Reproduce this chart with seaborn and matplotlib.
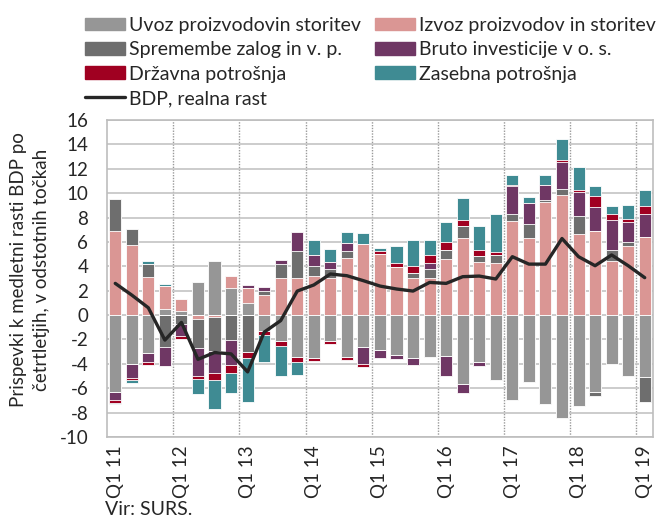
import numpy as np
import matplotlib
matplotlib.use("Agg")
import matplotlib.pyplot as plt
import seaborn as sns
from matplotlib.patches import Patch
from matplotlib.lines import Line2D

# quarters Q1 2011 .. Q1 2019
quarters = [f"Q{q} {y}" for y in range(11, 20) for q in range(1, 5)][:33]

uvoz = [-6.3, -4.05, -3.07, 0.47, 0.36, 2.74, 4.44, 2.25, 1.01, -1.3, -2.14,
        -3.45, -3.48, -2.14, -3.45, -2.6, -2.88, -3.29, -3.51, -3.42, -3.34,
        -5.64, -3.84, -5.34, -6.99, -5.48, -7.29, -8.4, -7.48, -6.33, -4.0,
        -4.99, -5.07]
izvoz = [6.93, 5.75, 3.15, 1.92, 0.99, -0.33, -0.14, 0.99, 1.2, 1.64, 3.07,
         3.01, 3.18, 3.01, 4.66, 5.84, 5.01, 3.97, 3.07, 3.07, 4.58,
         6.36, 4.36, 4.27, 7.75, 6.36, 9.26, 9.86, 6.66, 6.93, 4.47,
         5.67, 6.44]
zaloge = [2.58, 1.29, 1.01, -2.6, -0.72, -2.41, -2.79, -2.05, -3.01, 0.3, 1.15,
          2.25, 0.88, 0.77, 0.6, 0.0, 0.0, 0.0, 0.41, 0.71, 0.77,
          0.96, 0.49, 0.66, 0.55, 1.1, 0.19, 0.49, 1.48, -0.27, 0.88,
          0.36, -2.05]
investicije = [-0.68, -1.07, -0.77, -1.59, -1.0, -2.25, -1.81, -2.05, 0.22, 0.38, 0.28,
               1.59, 0.88, 0.55, 0.68, -1.45, -0.63, -0.33, -0.6, 0.49, -1.67,
               -0.74, -0.36, 0.0, 2.25, 1.7, 1.23, 2.19, 1.92, 1.92, 2.47,
               1.64, 1.84]
drzavna = [-0.19, -0.22, -0.22, 0.0, -0.27, -0.27, -0.6, -0.68, -0.49, -0.36, -0.4,
           -0.38, -0.25, -0.22, -0.25, -0.19, 0.22, 0.33, 0.55, 0.66, 0.68,
           0.49, 0.49, 0.27, 0.14, 0.0, 0.0, 0.14, 0.16, 0.88, 0.49,
           0.25, 0.63]
zasebna = [-0.1, -0.27, 0.27, 0.16, 0.0, -1.18, -2.38, -1.59, -3.62, -2.19, -2.47,
           -1.1, 1.18, 1.1, 0.9, 0.93, 0.3, 1.34, 2.11, 1.21, 1.62,
           1.81, 2.0, 3.12, 0.82, 0.49, 0.82, 1.8, 1.92, 0.88, 0.66,
           1.12, 1.32]
bdp = [2.6, 1.64, 0.6, -2.05, -0.6, -3.63, -3.07, -3.18, -4.66, -1.4, -0.45,
       1.97, 2.47, 3.37, 3.23, 2.82, 2.38, 2.14, 1.97, 2.68, 2.6,
       3.15, 3.2, 2.96, 4.79, 4.18, 4.18, 6.28, 4.79, 4.05, 4.93,
       4.05, 3.07]

names = ["Uvoz proizvodovin storitev", "Izvoz proizvodov in storitev",
         "Spremembe zalog in v. p.", "Bruto investicije v o. s.",
         "Državna potrošnja", "Zasebna potrošnja"]
colors = ["#969696", "#DA9694", "#6E6E6E", "#6F3764", "#A00021", "#3F8B93"]
line_color = "#262626"

sns.set_style("white")
plt.rcParams["font.family"] = ["Lato", "DejaVu Sans"]
plt.rcParams["axes.unicode_minus"] = False
FS = 14

fig = plt.figure(figsize=(6.62, 5.17), dpi=100)
ax = fig.add_axes([0.1616, 0.1547, 0.8248, 0.6132])

vals = np.array([uvoz, izvoz, zaloge, investicije, drzavna, zasebna])
pos = np.clip(vals, 0, None).cumsum(axis=0)
neg = np.clip(vals, None, 0).cumsum(axis=0)

# stacked bars: draw cumulative totals from the top series down
for k in reversed(range(len(names))):
    for cum in (pos, neg):
        sns.barplot(x=quarters, y=cum[k], color=colors[k], width=0.73,
                    saturation=1, edgecolor="white", linewidth=0.6,
                    errorbar=None, ax=ax)

sns.lineplot(x=np.arange(len(bdp)), y=bdp, color=line_color, linewidth=2.4,
             ax=ax, zorder=5)

ax.set_xlim(-0.5, 32.5)
ax.set_ylim(-10, 16)
ax.set_yticks(range(-10, 17, 2))
ax.set_xticks(range(0, 33, 4))
ax.set_xticklabels([quarters[i] for i in range(0, 33, 4)], rotation=90)
ax.tick_params(axis="both", length=0, labelsize=13.5)
ax.tick_params(axis="y", pad=13.5)
ax.tick_params(axis="x", pad=6)
ax.set_xlabel("")
ax.set_ylabel("")

ax.set_axisbelow(True)
ax.yaxis.grid(True, color="#C4C4C4", linewidth=1.2)
for i in range(4, 33, 4):
    ax.axvline(i - 0.5, color="#9A9A9A", linestyle=(0, (1, 1)), linewidth=1,
               zorder=0.5)
for s in ax.spines.values():
    s.set_color("#BDBDBD")
    s.set_linewidth(1.2)

fig.text(0.0453, 0.478, "Prispevki k medletni rasti BDP po\nčetrtletjih, v odstotnih točkah",
         rotation=90, ha="center", va="center", multialignment="center",
         fontsize=13.5, linespacing=1.45)
fig.text(0.159, 0.004, "Vir: SURS.", ha="left", va="baseline", fontsize=FS)

handles = [Patch(color=colors[0]), Patch(color=colors[2]), Patch(color=colors[4]),
           Line2D([0], [0], color=line_color, linewidth=2.4),
           Patch(color=colors[1]), Patch(color=colors[3]), Patch(color=colors[5])]
labels = [names[0], names[2], names[4], "BDP, realna rast",
          names[1], names[3], names[5]]
fig.legend(handles, labels, loc="upper left", bbox_to_anchor=(0.1224, 0.975),
           ncol=2, frameon=False, fontsize=FS, handlelength=2.06,
           handleheight=0.62, handletextpad=0.2, labelspacing=0.38,
           columnspacing=0.72, borderaxespad=0, borderpad=0.2)

fig.savefig("out.png", dpi=100)
